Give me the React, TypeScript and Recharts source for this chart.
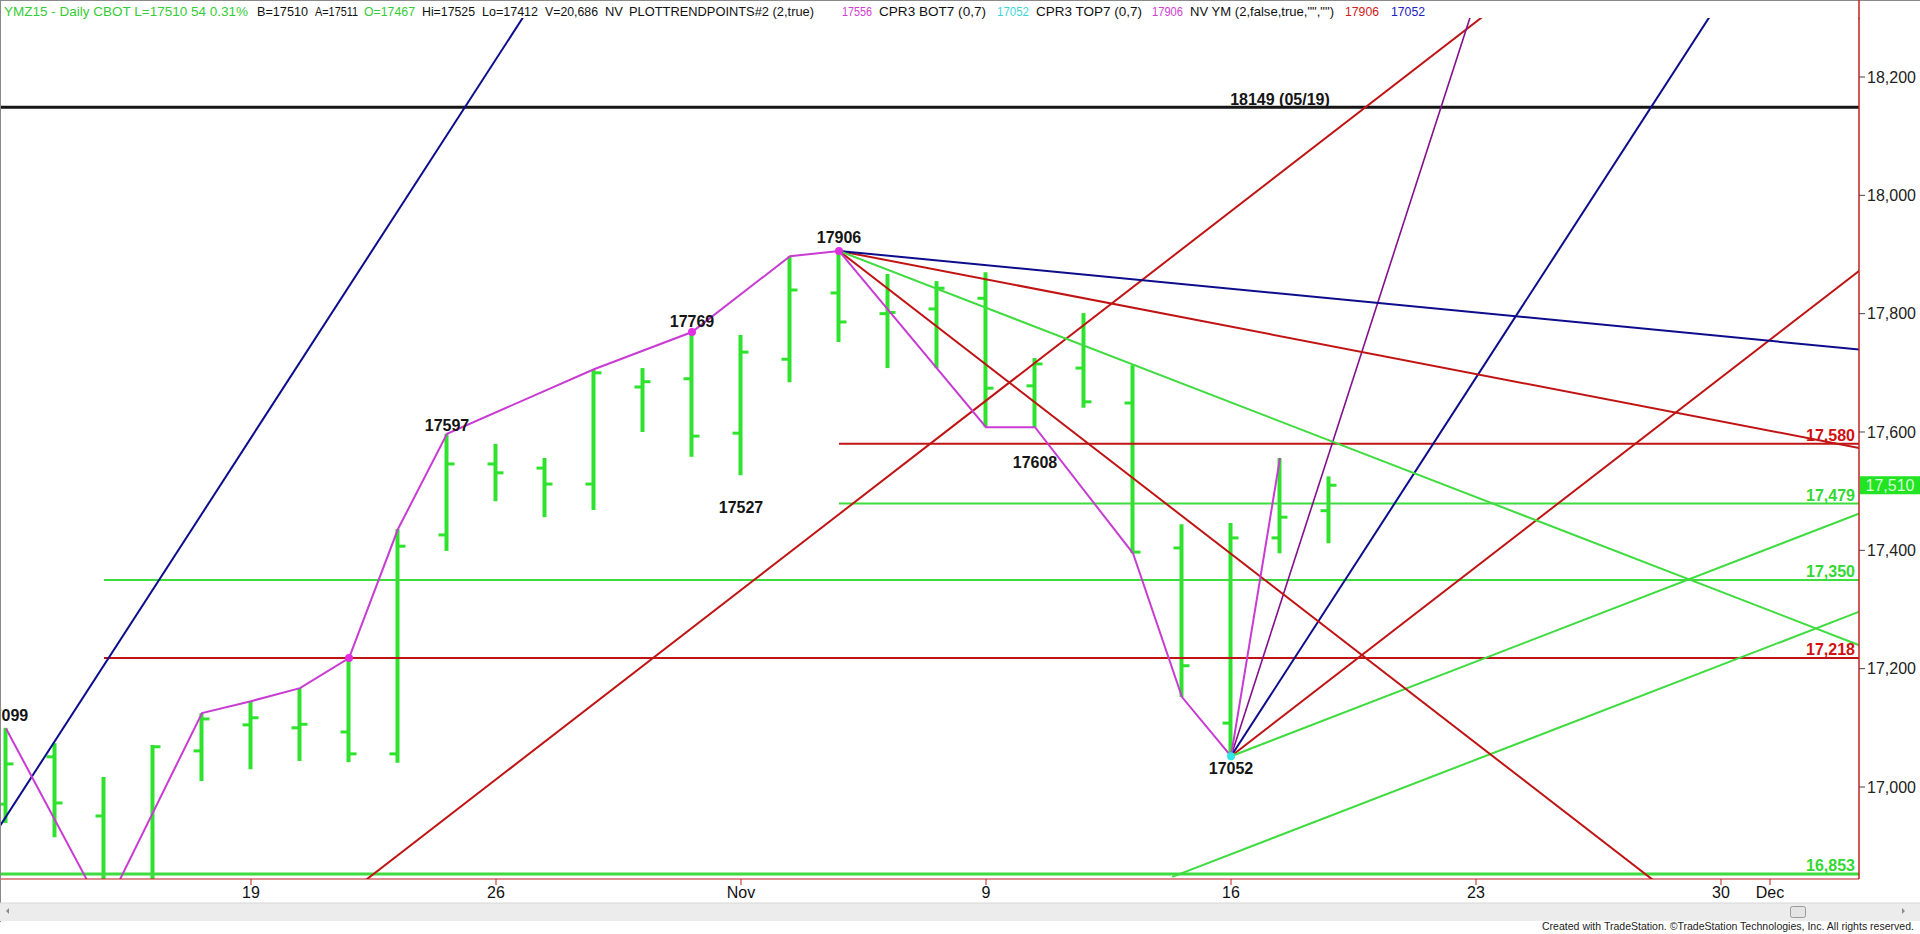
import React from 'react';
import { ComposedChart, Bar, Line, XAxis, YAxis, ReferenceLine, ReferenceDot } from 'recharts';

// YM Dec 2015 daily bars, index 0 = Mon Oct 12 (trading days only)
const dayIdx = [0, 1, 2, 3, 4, 5, 6, 7, 8, 9, 10, 11, 12, 13, 14, 15, 16, 17, 18, 19, 20, 21, 22, 23, 24, 25, 26, 27];
const opens = [16971, 17051, 16951, 16840, 17061, 17105, 17100, 17093, 17056, 17426, 17546, 17539, 17512, 17676, 17690, 17598, 17723, 17835, 17800, 17808, 17826, 17678, 17708, 17649, 17404, 17108, 17421, 17467];
const highs = [17100, 17074, 17017, 17071, 17125, 17145, 17167, 17218, 17436, 17597, 17580, 17556, 17706, 17708, 17769, 17764, 17897, 17906, 17867, 17855, 17870, 17725, 17801, 17713, 17444, 17446, 17556, 17525];
const lows = [16939, 16915, 16789, 16830, 17010, 17030, 17044, 17042, 17041, 17399, 17483, 17456, 17468, 17600, 17558, 17527, 17684, 17752, 17708, 17708, 17608, 17608, 17641, 17395, 17152, 17052, 17395, 17412];
const closes = [17039, 16973, 16835, 17068, 17115, 17117, 17106, 17056, 17407, 17546, 17531, 17512, 17700, 17685, 17593, 17735, 17840, 17786, 17802, 17843, 17674, 17715, 17651, 17397, 17205, 17421, 17456, 17510];

// swing (zigzag) line
const zigIdx = [0, 2, 4, 5, 6, 7, 8, 9, 12, 14, 16, 17, 20, 21, 23, 24, 25, 26];
const zigPrice = [17099, 16789, 17125, 17145, 17167, 17218, 17436, 17597, 17706, 17769, 17897, 17906, 17608, 17608, 17395, 17152, 17052, 17556];

// x axis (weeks) and price axis
const tickIdx = [5, 10, 15, 20, 25, 30, 35, 36];
const tickLabels = ['19', '26', 'Nov', '9', '16', '23', '30', 'Dec'];
const priceTicks = [17000, 17200, 17400, 17600, 17800, 18000, 18200];

// horizontal levels: price, first day, kind
const levelPrice = [18149, 17580, 17479, 17350, 17218, 16853];
const levelStart = [-1, 17, 17, 2, 2, -1];
const levelKind = ['black', 'red', 'green', 'green', 'red', 'floor'];

// angle lines drawn from pivots: [day, price] -> [day, price]
const trendFrom = [
  [-0.5, 16886], [7.3, 16840],
  [25, 17052], [25, 17052], [25, 17052], [25, 17052], [23.8, 16848],
  [17, 17906], [17, 17906], [17, 17906], [17, 17906],
];
const trendTo = [
  [10.6, 18307], [30.2, 18306],
  [29.9, 18306], [34.8, 18306], [38, 17884], [38, 17468], [38, 17302],
  [34, 16818], [38, 17570], [38, 17738], [38, 17234],
];
const trendKind = ['navy', 'red', 'purple', 'navy', 'red', 'green', 'green', 'red', 'red', 'navy', 'green'];

// pivot markers and text
const dotIdx = [7, 14, 17, 25];
const dotPrice = [17218, 17769, 17906, 17052];
const dotKind = ['zig', 'zig', 'zig', 'low'];

const noteText = ['17099', '17597', '17769', '17906', '17527', '17608', '17052', '18149 (05/19)'];
const noteIdx = [0, 9, 14, 17, 15, 21, 25, 26];
const notePrice = [17122, 17612, 17788, 17930, 17472, 17549, 17032, 18163];

const X_MIN = -6 / 49;
const X_MAX = 1853 / 49;
const Y_MIN = 16844.5;
const Y_MAX = 18299.7;

const FONT = '"Liberation Sans", Arial, Helvetica, sans-serif';
const C = {
  bar: '#2ee22e',
  red: '#c01414',
  green: '#3edc3e',
  navy: '#0c0c8c',
  purple: '#82118a',
  zig: '#c93cd3',
  black: '#151515',
  cyan: '#2ee6e6',
  axis: '#c02020',
};

const bars = dayIdx.map((i, k) => ({ i, o: opens[k], h: highs[k], l: lows[k], c: closes[k] }));
const zigzag = zigIdx.map((i, k) => ({ i, p: zigPrice[k] }));
const lastClose = closes[closes.length - 1];

const fmt = (v: number) => v.toLocaleString('en-US');

const lineColor = (kind: string) =>
  kind === 'red' ? C.red : kind === 'green' || kind === 'floor' ? C.green : kind === 'navy' ? C.navy : kind === 'purple' ? C.purple : C.black;

const OhlcShape = (props: any) => {
  const { x, y, width, height, payload } = props;
  if (x == null || y == null || !payload) return null;
  const cx = x + width / 2;
  const top = Math.min(y, y + height);
  const bot = Math.max(y, y + height);
  const span = payload.h - payload.l;
  const yAt = (v: number) => top + ((payload.h - v) / span) * (bot - top);
  const yo = yAt(payload.o);
  const yc = yAt(payload.c);
  return (
    <g>
      <line x1={cx} x2={cx} y1={top} y2={bot} stroke={C.bar} strokeWidth={4} />
      <line x1={cx - 8} x2={cx} y1={yo} y2={yo} stroke={C.bar} strokeWidth={3} />
      <line x1={cx} x2={cx + 8} y1={yc} y2={yc} stroke={C.bar} strokeWidth={3} />
    </g>
  );
};

const HEADER = [
  { t: 'YMZ15 - Daily  CBOT  L=17510  54  0.31%', x: 4, w: 244, c: '#35cc35' },
  { t: 'B=17510', x: 257, w: 51, c: '#111' },
  { t: 'A=17511', x: 315, w: 43, c: '#111' },
  { t: 'O=17467', x: 364, w: 51, c: '#35cc35' },
  { t: 'Hi=17525', x: 422, w: 53, c: '#111' },
  { t: 'Lo=17412', x: 482, w: 56, c: '#111' },
  { t: 'V=20,686', x: 545, w: 53, c: '#111' },
  { t: 'NV', x: 605, w: 18, c: '#111' },
  { t: 'PLOTTRENDPOINTS#2 (2,true)', x: 629, w: 185, c: '#111' },
  { t: '17556', x: 842, w: 30, c: '#d23cd2' },
  { t: 'CPR3 BOT7 (0,7)', x: 879, w: 107, c: '#111' },
  { t: '17052', x: 997, w: 32, c: '#3cd6d6' },
  { t: 'CPR3 TOP7 (0,7)', x: 1036, w: 106, c: '#111' },
  { t: '17906', x: 1152, w: 31, c: '#d23cd2' },
  { t: 'NV YM (2,false,true,"","")', x: 1190, w: 144, c: '#111' },
  { t: '17906', x: 1345, w: 34, c: '#d02020' },
  { t: '17052', x: 1391, w: 34, c: '#2020c0' },
];

export default function App() {
  return (
    <div style={{ position: 'relative', width: 1920, height: 934, background: '#fff', overflow: 'hidden', fontFamily: FONT }}>
      <style>{'body{margin:0;background:#fff}'}</style>
      <ComposedChart width={1920} height={934} data={bars} margin={{ top: 18, right: 0, bottom: 31, left: 0 }}>
        <XAxis
          dataKey="i"
          type="number"
          domain={[X_MIN, X_MAX]}
          allowDataOverflow
          ticks={tickIdx}
          interval={0}
          tickFormatter={(v: number, idx: number) => tickLabels[idx] ?? ''}
          height={24}
          axisLine={{ stroke: C.axis, strokeWidth: 1 }}
          tickLine={{ stroke: C.axis }}
          tickSize={6}
          tick={{ fontSize: 16, fill: '#111', fontFamily: FONT }}
        />
        <YAxis
          orientation="right"
          type="number"
          domain={[Y_MIN, Y_MAX]}
          allowDataOverflow
          ticks={priceTicks}
          interval={0}
          tickFormatter={(v: number) => fmt(v)}
          width={61}
          axisLine={{ stroke: C.axis, strokeWidth: 1.5 }}
          tickLine={{ stroke: '#444' }}
          tickSize={6}
          tick={{ fontSize: 16, fill: '#222', fontFamily: FONT, textAnchor: 'start' }}
        />
        <Bar dataKey={(d: any) => [d.l, d.h]} barSize={4} shape={(p: any) => <OhlcShape {...p} />} isAnimationActive={false} />

        {levelPrice.map((p, k) => (
          <ReferenceLine
            key={`lv${k}`}
            segment={[{ x: levelStart[k], y: p }, { x: 40, y: p }]}
            stroke={lineColor(levelKind[k])}
            strokeWidth={levelKind[k] === 'floor' || levelKind[k] === 'black' ? 3 : 2}
            ifOverflow="hidden"
          />
        ))}

        {trendFrom.map((a, k) => (
          <ReferenceLine
            key={`tr${k}`}
            segment={[{ x: a[0], y: a[1] }, { x: trendTo[k][0], y: trendTo[k][1] }]}
            stroke={lineColor(trendKind[k])}
            strokeWidth={trendKind[k] === 'purple' ? 1.6 : 2}
            ifOverflow="hidden"
          />
        ))}

        <Line data={zigzag} dataKey="p" type="linear" stroke={C.zig} strokeWidth={2} dot={false} activeDot={false} isAnimationActive={false} />

        {dotIdx.map((i, k) => (
          <ReferenceDot
            key={`dt${k}`}
            x={i}
            y={dotPrice[k]}
            r={4}
            fill={dotKind[k] === 'low' ? C.cyan : '#e030e0'}
            stroke="none"
            ifOverflow="visible"
          />
        ))}

        {noteText.map((t, k) => (
          <ReferenceDot
            key={`nt${k}`}
            x={noteIdx[k]}
            y={notePrice[k]}
            r={0}
            ifOverflow="visible"
            shape={(p: any) => (
              <text x={p.cx} y={p.cy} dy="0.36em" textAnchor="middle" fontSize={16} fontWeight="bold" fill={C.black} fontFamily={FONT}>
                {t}
              </text>
            )}
          />
        ))}

        {levelPrice.map((p, k) =>
          levelKind[k] === 'black' ? null : (
            <ReferenceDot
              key={`ll${k}`}
              x={X_MAX}
              y={p}
              r={0}
              ifOverflow="visible"
              shape={(s: any) => (
                <text x={s.cx - 4} y={s.cy - 3} textAnchor="end" fontSize={16} fontWeight="bold" fill={levelKind[k] === 'red' ? '#d01010' : '#33d833'} fontFamily={FONT}>
                  {fmt(p)}
                </text>
              )}
            />
          )
        )}

        <ReferenceDot
          x={X_MAX}
          y={lastClose}
          r={0}
          ifOverflow="visible"
          shape={(s: any) => (
            <g>
              <rect x={s.cx + 1} y={s.cy - 9} width={61} height={18} fill="#22e422" />
              <text x={s.cx + 31} y={s.cy} dy="0.36em" textAnchor="middle" fontSize={16} fill="#d6ffd6" fontFamily={FONT}>
                {fmt(lastClose)}
              </text>
            </g>
          )}
        />
      </ComposedChart>

      <svg width={1920} height={934} style={{ position: 'absolute', left: 0, top: 0, pointerEvents: 'none' }}>
        <line x1={0} x2={1920} y1={0.5} y2={0.5} stroke="#8a8a8a" />
        <line x1={0.5} x2={0.5} y1={0} y2={922} stroke="#8a8a8a" />
        <line x1={1859} x2={1859} y1={0} y2={19} stroke={C.axis} strokeWidth={1.5} />
        {HEADER.map((h, k) => (
          <text key={k} x={h.x} y={16} fontSize={13} fill={h.c} fontFamily={FONT} textLength={h.w} lengthAdjust="spacingAndGlyphs">
            {h.t}
          </text>
        ))}
        <rect x={0} y={903} width={1920} height={18} fill="#ececec" />
        <line x1={0} x2={1920} y1={903} y2={903} stroke="#d6d6d6" />
        <polygon points="9,908 9,914 6,911" fill="#8a8a8a" />
        <polygon points="1902,908 1902,914 1905,911" fill="#8a8a8a" />
        <rect x={1790.5} y={906.5} width={15} height={11} rx={2} fill="#e4e4e4" stroke="#9a9a9a" />
        <text x={1542} y={930} fontSize={11} fill="#222" fontFamily={FONT} textLength={372} lengthAdjust="spacingAndGlyphs">
          Created with TradeStation. ©TradeStation Technologies, Inc. All rights reserved.
        </text>
      </svg>
    </div>
  );
}
